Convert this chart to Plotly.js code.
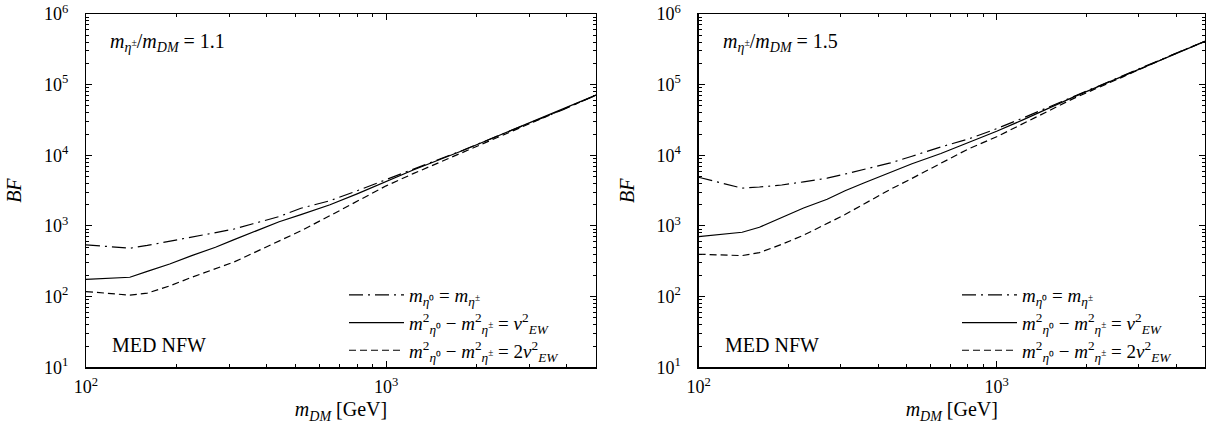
<!DOCTYPE html>
<html>
<head>
<meta charset="utf-8">
<script src="https://cdn.plot.ly/plotly-3.0.1.min.js"></script>
<style>
  html, body { margin: 0; padding: 0; background: #fff; }
  #chart { width: 1206px; height: 430px; }
</style>
</head>
<body>
<div id="chart"></div>
<script>
// ---- Data ----
const massGeV = [100, 140, 160, 190, 225, 270, 310, 360, 440, 520, 650, 800, 1000, 1230, 1800, 2640, 3870, 5000];

// Left panel: m_eta± / m_DM = 1.1
const bfL_equal = [540, 485, 530, 610, 700, 800, 900, 1075, 1360, 1780, 2280, 3150, 4500, 6300, 11800, 23000, 44000, 71000];
const bfL_vEW   = [176, 188, 228, 290, 380, 500, 635, 820, 1150, 1450, 2000, 2850, 4300, 6200, 11700, 23000, 44000, 71000];
const bfL_2vEW  = [118, 105, 112, 142, 188, 245, 307, 412, 605, 855, 1400, 2220, 3700, 5500, 11000, 22500, 44000, 71000];

// Right panel: m_eta± / m_DM = 1.5
const bfR_equal = [4900, 3430, 3560, 3800, 4210, 4750, 5430, 6320, 7800, 9700, 13150, 16900, 23800, 34000, 67500, 132000, 263000, 412000];
const bfR_vEW   = [708, 815, 960, 1300, 1795, 2390, 3150, 4100, 5800, 7600, 10600, 15000, 21900, 32000, 66000, 131000, 262000, 410000];
const bfR_2vEW  = [398, 381, 420, 550, 740, 1077, 1450, 2065, 3300, 4720, 7740, 12200, 18300, 28100, 63000, 128000, 262000, 410000];

const seriesNames = [
  '<i>m</i><sub><i>η</i>⁰</sub> = <i>m</i><sub><i>η</i><sup>±</sup></sub>',
  '<i>m</i><sup>2</sup><sub><i>η</i>⁰</sub> − <i>m</i><sup>2</sup><sub><i>η</i><sup>±</sup></sub> = <i>v</i><sup>2</sup><sub><i>EW</i></sub>',
  '<i>m</i><sup>2</sup><sub><i>η</i>⁰</sub> − <i>m</i><sup>2</sup><sub><i>η</i><sup>±</sup></sub> = 2<i>v</i><sup>2</sup><sub><i>EW</i></sub>'
];
const panelLabels = [
  '<i>m</i><sub><i>η</i><sup>±</sup></sub>/<i>m</i><sub><i>DM</i></sub> = 1.1',
  '<i>m</i><sub><i>η</i><sup>±</sup></sub>/<i>m</i><sub><i>DM</i></sub> = 1.5'
];
const haloLabel = 'MED NFW';

const xTickVals = [100, 1000];
const xTickText = ['10<sup>2</sup>', '10<sup>3</sup>'];
const yTickVals = [10, 100, 1000, 10000, 100000, 1000000];
const yTickText = ['10<sup>1</sup>', '10<sup>2</sup>', '10<sup>3</sup>', '10<sup>4</sup>', '10<sup>5</sup>', '10<sup>6</sup>'];

// minor tick values (2..9 x decade)
function minorTicks(lo, hi) {
  const out = [];
  for (let d = lo; d < hi; d *= 10) for (let k = 2; k <= 9; k++) out.push(k * d);
  return out;
}
const xMinor = minorTicks(100, 10000).filter(v => v <= 5000);
const yMinor = minorTicks(10, 1000000);

// ---- Styles ----
const FONT = 'Liberation Serif';
const dashes = ['14px,5px,2px,5px', 'solid', '7px,4px'];

function mk(y, i, xa, ya, lg, show) {
  return {
    x: massGeV, y: y, type: 'scatter', mode: 'lines',
    name: seriesNames[i], xaxis: xa, yaxis: ya, legend: lg,
    legendgroup: lg + i, showlegend: show,
    line: { color: '#000', width: 1.2, dash: dashes[i] },
    hoverinfo: 'skip'
  };
}
const data = [
  mk(bfL_equal, 0, 'x', 'y', 'legend', true),
  mk(bfL_vEW, 1, 'x', 'y', 'legend', true),
  mk(bfL_2vEW, 2, 'x', 'y', 'legend', true),
  mk(bfR_equal, 0, 'x2', 'y2', 'legend2', true),
  mk(bfR_vEW, 1, 'x2', 'y2', 'legend2', true),
  mk(bfR_2vEW, 2, 'x2', 'y2', 'legend2', true)
];

function xAxis(domain, anchor) {
  return {
    type: 'log', domain: domain, anchor: anchor, range: [2, Math.log10(5000)],
    showline: true, linecolor: '#000', linewidth: 1.2, mirror: 'ticks',
    ticks: 'inside', ticklen: 6, tickwidth: 1, tickcolor: '#000',
    tickvals: xTickVals, ticktext: xTickText, showgrid: false, zeroline: false,
    tickfont: { family: FONT, size: 18, color: '#000' },
    ticklabelstandoff: 3,
    minor: { tickvals: xMinor, ticks: 'inside', ticklen: 3, tickcolor: '#000', tickwidth: 1, showgrid: false },
    title: { text: '<i>m</i><sub><i>DM</i></sub> [GeV]', font: { family: FONT, size: 20, color: '#000' }, standoff: 6 },
    fixedrange: true
  };
}
function yAxis(domain, anchor) {
  return {
    type: 'log', domain: domain, anchor: anchor, range: [1, 6],
    showline: true, linecolor: '#000', linewidth: 1.2, mirror: 'ticks',
    ticks: 'inside', ticklen: 6, tickwidth: 1, tickcolor: '#000',
    tickvals: yTickVals, ticktext: yTickText, showgrid: false, zeroline: false,
    tickfont: { family: FONT, size: 18, color: '#000' },
    ticklabelstandoff: 13,
    minor: { tickvals: yMinor, ticks: 'inside', ticklen: 3, tickcolor: '#000', tickwidth: 1, showgrid: false },
    title: { text: '<i>BF</i>', font: { family: FONT, size: 20, color: '#000' }, standoff: 16 },
    fixedrange: true
  };
}

const W = 1206, H = 430;
const yDom = [(H - 367.3) / H, (H - 14) / H];
const legendBase = {
  bgcolor: 'rgba(0,0,0,0)', borderwidth: 0, traceorder: 'grouped', tracegroupgap: 0,
  itemwidth: 55, font: { family: FONT, size: 19, color: '#000' },
  xanchor: 'left', yanchor: 'top', itemclick: false, itemdoubleclick: false
};

const ann = (txt, x, y) => ({
  text: txt, xref: 'paper', yref: 'paper', x: x / W, y: (H - y) / H,
  xanchor: 'left', yanchor: 'middle', showarrow: false,
  font: { family: FONT, size: 20, color: '#000' }
});

const layout = {
  width: W, height: H,
  margin: { l: 0, r: 0, t: 0, b: 0, pad: 0 },
  paper_bgcolor: '#fff', plot_bgcolor: '#fff',
  showlegend: true,
  font: { family: FONT, color: '#000' },
  xaxis: xAxis([86 / W, 596 / W], 'y'),
  yaxis: yAxis(yDom, 'x'),
  xaxis2: xAxis([698.6 / W, 1205 / W], 'y2'),
  yaxis2: yAxis(yDom, 'x2'),
  legend: Object.assign({}, legendBase, { x: 344 / W, y: (H - 276) / H }),
  legend2: Object.assign({}, legendBase, { x: 957 / W, y: (H - 276) / H }),
  annotations: [
    ann(panelLabels[0], 108, 42),
    ann(panelLabels[1], 721, 42),
    ann(haloLabel, 110, 345),
    ann(haloLabel, 723, 345)
  ]
};

Plotly.newPlot('chart', data, layout, { staticPlot: true, displayModeBar: false });
</script>
</body>
</html>
